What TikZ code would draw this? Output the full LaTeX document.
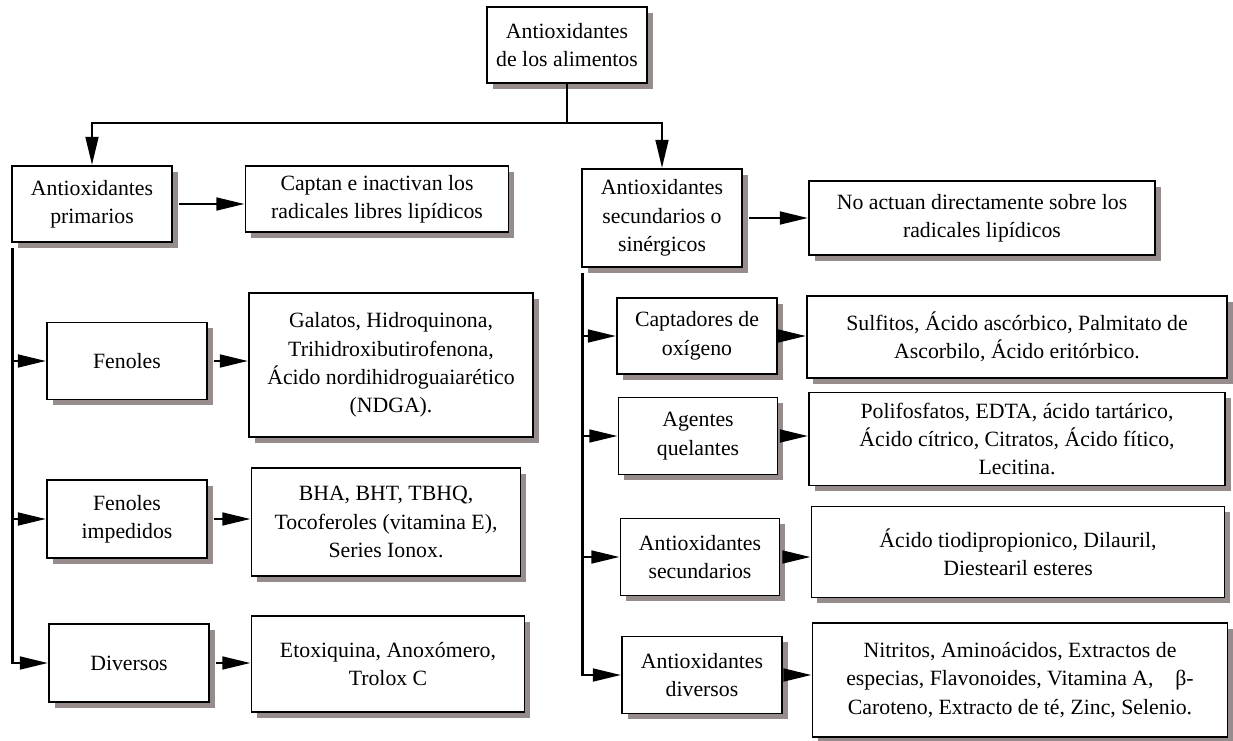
\documentclass[tikz,border=0pt]{standalone}
\usepackage{fontspec}
\setmainfont{Liberation Serif}
\usetikzlibrary{arrows.meta,shadows}
\definecolor{shade}{RGB}{150,140,140}

\begin{document}
\begin{tikzpicture}[x=0.02cm,y=-0.02cm,line join=miter,
  box/.style={draw,line width=1.1pt,fill=white,align=center,inner sep=2pt,
    font=\fontsize{12.4}{16.2}\selectfont,
    drop shadow={shadow xshift=3.4pt,shadow yshift=-3.4pt,fill=shade,opacity=1}},
  wh/.style 2 args={minimum width=#1*0.02cm,minimum height=#2*0.02cm},
  link/.style={line width=1.5pt,line cap=rect},
  conn/.style={line width=1.5pt,-{Triangle[length=16pt,width=7.2pt]}}]
  \useasboundingbox (0,0) rectangle (1233,740);
  % left branch
  \node[box,wh={160}{76}] (root) at (567,45) {Antioxidantes\\de los alimentos};
  \node[box,wh={160}{76}] (prim) at (92,204) {Antioxidantes\\primarios};
  \node[box,wh={263}{66}] (captan) at (377,199) {Captan e inactivan los\\radicales libres lipídicos};
  \node[box,wh={160}{77}] (fen) at (127,361) {Fenoles};
  \node[box,wh={284}{144}] (gal) at (391,365) {Galatos, Hidroquinona,\\Trihidroxibutirofenona,\\Ácido nordihidroguaiarético\\(NDGA).};
  \node[box,wh={160}{78}] (fimp) at (127,519) {Fenoles\\impedidos};
  \node[box,wh={269}{108}] (bha) at (386,522) {BHA, BHT, TBHQ,\\Tocoferoles (vitamina E),\\Series Ionox.};
  \node[box,wh={160}{78}] (div) at (129,663) {Diversos};
  \node[box,wh={273}{96}] (etox) at (388,664) {Etoxiquina, Anoxómero,\\Trolox C};
  % right branch
  \node[box,wh={160}{98}] (sec) at (662,218) {Antioxidantes\\secundarios o\\sinérgicos};
  \node[box,wh={346}{74}] (noact) at (982,218) {No actuan directamente sobre los\\radicales lipídicos};
  \node[box,wh={160}{76}] (capt) at (697,336) {Captadores de\\oxígeno};
  \node[box,wh={420}{82}] (sulf) at (1017,337) {Sulfitos, Ácido ascórbico, Palmitato de\\Ascorbilo, Ácido eritórbico.};
  \node[box,wh={159}{77}] (quel) at (698,436) {Agentes\\quelantes};
  \node[box,wh={416}{93}] (polif) at (1017,439) {Polifosfatos, EDTA, ácido tartárico,\\Ácido cítrico, Citratos, Ácido fítico,\\Lecitina.};
  \node[box,wh={159}{77}] (asec) at (700,557) {Antioxidantes\\secundarios};
  \node[box,wh={413}{91}] (acido) at (1018,552) {Ácido tiodipropionico, Dilauril,\\Diestearil esteres};
  \node[box,wh={160}{77}] (adiv) at (702,675) {Antioxidantes\\diversos};
  \node[box,wh={415}{114}] (nitr) at (1020,680) {Nitritos, Aminoácidos, Extractos de\\especias, Flavonoides, Vitamina A,\quad β-\\Caroteno, Extracto de té, Zinc, Selenio.};
  % connectors
  \coordinate (split) at (root.south |- 0,123);
  \draw[link] (root) -- (split);
  \draw[conn] (split) -| (prim);
  \draw[conn] (split) -| (sec);
  \coordinate (tl) at ([xshift=1pt,yshift=-3.4pt]prim.south west);
  \coordinate (tr) at ([xshift=1pt,yshift=-3.4pt]sec.south west);
  \draw[link] (tl) -- (tl |- div.west);
  \draw[link] (tr) -- (tr |- adiv.west);
  \foreach \n in {fen,fimp,div}{\draw[conn] (tl |- \n.west) -- (\n.west);}
  \foreach \n in {capt,quel,asec,adiv}{\draw[conn] (tr |- \n.west) -- (\n.west);}
  \foreach \a/\b in {prim/captan,fen/gal,fimp/bha,div/etox,sec/noact,capt/sulf,quel/polif,asec/acido,adiv/nitr}{\draw[conn,shorten <=3.4pt] (\a.east) -- (\a.east -| \b.west);}
\end{tikzpicture}
\end{document}
